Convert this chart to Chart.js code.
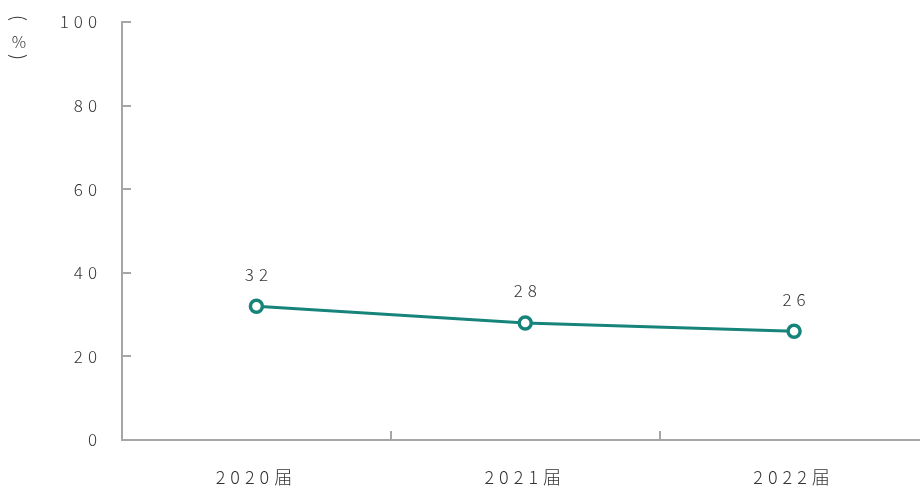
<!DOCTYPE html>
<html>
<head>
<meta charset="utf-8">
<script src="https://cdn.jsdelivr.net/npm/chart.js@4/dist/chart.umd.min.js"></script>
<style>
  html, body { margin: 0; padding: 0; background: #fff; overflow: hidden; width: 920px; height: 488px; }
  #wrap { width: 938px; height: 488px; }
</style>
</head>
<body>
<div id="wrap"><canvas id="grafico"></canvas></div>
<script>
const categorias = ['2020届', '2021届', '2022届'];
const valores = [32, 28, 26];
const ticksY = [0, 20, 40, 60, 80, 100];

const colorLinea = '#16847a';
const colorEje = '#a6a6a6';
const fuente = '"Noto Sans CJK SC", "Noto Sans", sans-serif';

// espaciado entre letras como en la imagen
const espaciado = {
    id: 'espaciado',
    beforeUpdate(chart) { chart.ctx.letterSpacing = '5px'; },
    beforeDraw(chart) { chart.ctx.letterSpacing = '5px'; }
};

// marcas de los ejes hacia dentro, etiquetas de datos y unidad
const extras = {
    id: 'extras',
    afterDraw(chart) {
        const ctx = chart.ctx;
        const x = chart.scales.x;
        const y = chart.scales.y;
        const ejeX = y.right;
        const ejeY = x.top;
        ctx.save();
        ctx.strokeStyle = colorEje;
        ctx.lineWidth = 2;
        ticksY.forEach(v => {
            const py = Math.round(y.getPixelForValue(v));
            ctx.beginPath();
            ctx.moveTo(ejeX, py);
            ctx.lineTo(ejeX + 9, py);
            ctx.stroke();
        });
        for (let i = 1; i < categorias.length; i++) {
            const px = Math.round((x.getPixelForTick(i - 1) + x.getPixelForTick(i)) / 2);
            ctx.beginPath();
            ctx.moveTo(px, ejeY);
            ctx.lineTo(px, ejeY - 9);
            ctx.stroke();
        }

        ctx.letterSpacing = '5px';
        ctx.fillStyle = '#333';
        ctx.font = '300 17px ' + fuente;
        ctx.textAlign = 'center';
        ctx.textBaseline = 'middle';
        const meta = chart.getDatasetMeta(0);
        meta.data.forEach((p, i) => {
            ctx.fillText(String(valores[i]), p.x + 2.5, p.y - 32);
        });

        ctx.letterSpacing = '0px';
        ctx.font = '300 16px ' + fuente;
        ctx.fillText('%', 19, 42);
        ctx.font = '300 19px ' + fuente;
        [[18, 1], [57, -1]].forEach(([py, r]) => {
            ctx.save();
            ctx.translate(19, py);
            ctx.rotate(Math.PI / 2);
            ctx.fillText(r > 0 ? '(' : ')', 0, 0);
            ctx.restore();
        });
        ctx.restore();
    }
};

new Chart(document.getElementById('grafico'), {
    type: 'line',
    data: {
        labels: categorias,
        datasets: [{
            data: valores,
            borderColor: colorLinea,
            borderWidth: 3,
            backgroundColor: '#fff',
            pointBackgroundColor: '#fff',
            pointBorderColor: colorLinea,
            pointBorderWidth: 3.5,
            pointRadius: 6,
            tension: 0
        }]
    },
    options: {
        responsive: true,
        maintainAspectRatio: false,
        animation: false,
        layout: { padding: { top: 22, right: 0, left: 0, bottom: 0 } },
        plugins: {
            legend: { display: false },
            tooltip: { enabled: false },
            title: { display: false }
        },
        scales: {
            x: {
                offset: true,
                grid: { display: false, drawTicks: false },
                border: { display: true, color: colorEje, width: 2 },
                ticks: {
                    padding: 26,
                    color: '#333',
                    font: { family: fuente, size: 18, weight: 300 }
                },
                afterFit: s => {
                    s.height = 48;
                    s.paddingLeft = 0;
                    s.paddingRight = 0;
                }
            },
            y: {
                min: 0,
                max: 100,
                afterBuildTicks: s => { s.ticks = ticksY.map(v => ({ value: v })); },
                grid: { display: false, drawTicks: false },
                border: { display: true, color: colorEje, width: 2 },
                ticks: {
                    padding: 20,
                    color: '#333',
                    font: { family: fuente, size: 17, weight: 300 }
                },
                afterFit: s => {
                    s.width = 122;
                    s.paddingTop = 0;
                    s.paddingBottom = 0;
                }
            }
        }
    },
    plugins: [espaciado, extras]
});
</script>
</body>
</html>
